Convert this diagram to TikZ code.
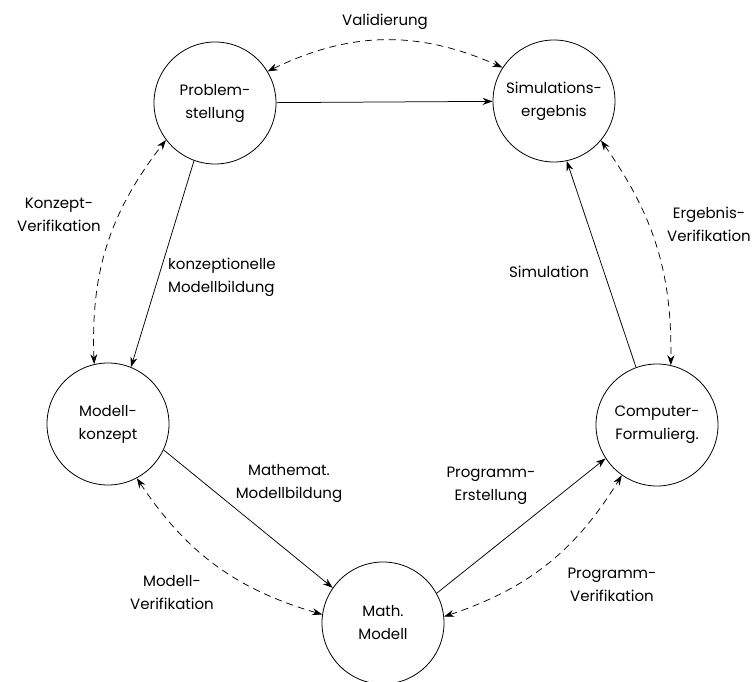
\documentclass[tikz,border=0pt]{standalone}
\usepackage{fontspec}
\setmainfont{Poppins}
\usetikzlibrary{arrows.meta}
\begin{document}
\begin{tikzpicture}[x=1pt,y=-1pt,
  stage/.style={circle,draw,line width=0.8pt,minimum size=122pt,inner sep=0pt,
    align=center,font=\fontsize{15}{23}\selectfont},
  flow/.style={draw,line width=0.75pt,-{Stealth[length=10pt,width=7pt]}},
  check/.style={draw,line width=0.75pt,dash pattern=on 7pt off 5pt,
    {Stealth[length=10pt,width=7pt]}-{Stealth[length=10pt,width=7pt]}},
  lbl/.style={align=center,font=\fontsize{15}{23}\selectfont,inner sep=0pt}]
\useasboundingbox (0,0) rectangle (753,682);

% the five stages of the simulation cycle
\node[stage] (prob) at (215,103) {Problem-\\stellung};
\node[stage] (sim)  at (554,101) {Simulations-\\ergebnis};
\node[stage] (mod)  at (108,424) {Modell-\\konzept};
\node[stage] (comp) at (657,425) {Computer-\\Formulierg.};
\node[stage] (math) at (383,623) {Math.\\Modell};

% forward steps
\draw[flow] (prob) -- (sim);
\draw[flow] (prob.250) -- (mod.68);
\draw[flow] (mod.-25) -- (math.145);
\draw[flow] (math.29) -- (comp.213);
\draw[flow] (comp.110) -- (sim.-78);

% verification / validation loops
\draw[check] (prob.31) to[bend left=25] (sim.147);
\draw[check] (mod.103) to[bend left=20] (prob.217);
\draw[check] (sim.-40) to[bend left=18] (comp.77);
\draw[check] (mod.-62) to[bend right=20] (math.172);
\draw[check] (math.6) to[bend right=20] (comp.235);

% labels
\node[lbl] (lval) at (385,22) {Validierung};
\node[lbl] (lkv)  at (59,215) {Konzept-\\Verifikation};
\node[lbl,align=left,anchor=west] (lkm) at (168,277) {konzeptionelle\\Modellbildung};
\node[lbl] (lev)  at (709,224) {Ergebnis-\\Verifikation};
\node[lbl] (lsim) at (549,272) {Simulation};
\node[lbl] (lmm)  at (289,483) {Mathemat.\\Modellbildung};
\node[lbl] (lpe)  at (491,486) {Programm-\\Erstellung};
\node[lbl] (lpv)  at (612,585) {Programm-\\Verifikation};
\node[lbl] (lmv)  at (172,593) {Modell-\\Verifikation};
\end{tikzpicture}
\end{document}
